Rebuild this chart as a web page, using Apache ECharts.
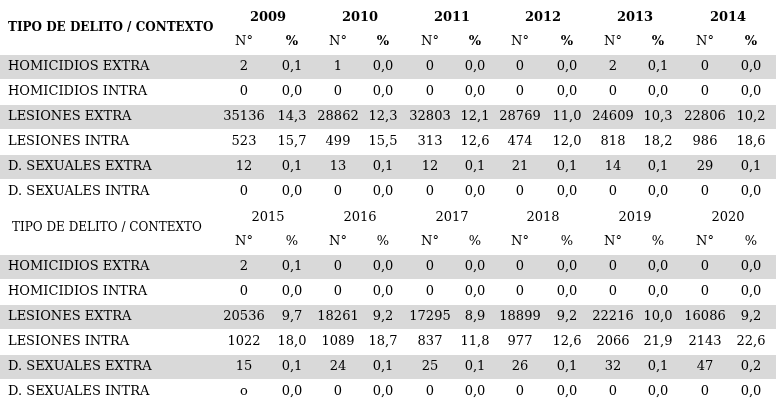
<!DOCTYPE html>
<html><head><meta charset="utf-8">
<script src="https://cdn.jsdelivr.net/npm/echarts@6/dist/echarts.min.js"></script>
<style>html,body{margin:0;background:#fff}#c{width:776px;height:408px}</style>
</head><body><div id="c"></div>
<script>
const rowLabels = ["HOMICIDIOS EXTRA","HOMICIDIOS INTRA","LESIONES EXTRA","LESIONES INTRA","D. SEXUALES EXTRA","D. SEXUALES INTRA"];
const yearsA = ["2009","2010","2011","2012","2013","2014"];
const yearsB = ["2015","2016","2017","2018","2019","2020"];
const countsA = [
  ["2","1","0","0","2","0"],
  ["0","0","0","0","0","0"],
  ["35136","28862","32803","28769","24609","22806"],
  ["523","499","313","474","818","986"],
  ["12","13","12","21","14","29"],
  ["0","0","0","0","0","0"]];
const pctA = [
  ["0,1","0,0","0,0","0,0","0,1","0,0"],
  ["0,0","0,0","0,0","0,0","0,0","0,0"],
  ["14,3","12,3","12,1","11,0","10,3","10,2"],
  ["15,7","15,5","12,6","12,0","18,2","18,6"],
  ["0,1","0,1","0,1","0,1","0,1","0,1"],
  ["0,0","0,0","0,0","0,0","0,0","0,0"]];
const countsB = [
  ["2","0","0","0","0","0"],
  ["0","0","0","0","0","0"],
  ["20536","18261","17295","18899","22216","16086"],
  ["1022","1089","837","977","2066","2143"],
  ["15","24","25","26","32","47"],
  ["o","0","0","0","0","0"]];
const pctB = [
  ["0,1","0,0","0,0","0,0","0,0","0,0"],
  ["0,0","0,0","0,0","0,0","0,0","0,0"],
  ["9,7","9,2","8,9","9,2","10,0","9,2"],
  ["18,0","18,7","11,8","12,6","21,9","22,6"],
  ["0,1","0,1","0,1","0,1","0,1","0,2"],
  ["0,0","0,0","0,0","0,0","0,0","0,0"]];
const headerLabel = "TIPO DE DELITO / CONTEXTO";

const F = "'DejaVu Serif', serif";
const els = [];
function txt(x,y,s,opt){
  els.push({type:'text',x:x,y:y,style:Object.assign({text:s,fill:'#000',font:'13px '+F,textAlign:'center',textVerticalAlign:'middle'},opt||{})});
}
const nX = [244,338,430,520,613,705], pX=[292,383,475,567,658,751], yX=[268,360,452,543,635,728];
function block(top, years, counts, pcts, bold, hx){
  // top = y of year row center
  for(let r=0;r<6;r++){
    const cy = top + 49 + r*25;
    if(r%2===0) els.push({type:'rect',shape:{x:0,y:cy-12,width:776,height:24},style:{fill:'#d9d9d9'},z:-1});
    txt(8,cy,rowLabels[r],{textAlign:'left'});
    for(let c=0;c<6;c++){ txt(nX[c],cy,counts[r][c]); txt(pX[c],cy,pcts[r][c]); }
  }
  for(let c=0;c<6;c++){
    txt(yX[c],top,years[c],bold?{font:'bold 13px '+F}:{});
    txt(nX[c],top+24,'N°'); txt(pX[c],top+24,'%',bold?{font:'bold 13px '+F}:{});
  }
  txt(hx,top+10,headerLabel,{textAlign:'left',font:(bold?'bold ':'')+'12px '+F});
}
block(18, yearsA, countsA, pctA, true, 8);
block(218, yearsB, countsB, pctB, false, 12);
const chart = echarts.init(document.getElementById('c'));
chart.setOption({animation:false,graphic:{elements:els}});
</script></body></html>
